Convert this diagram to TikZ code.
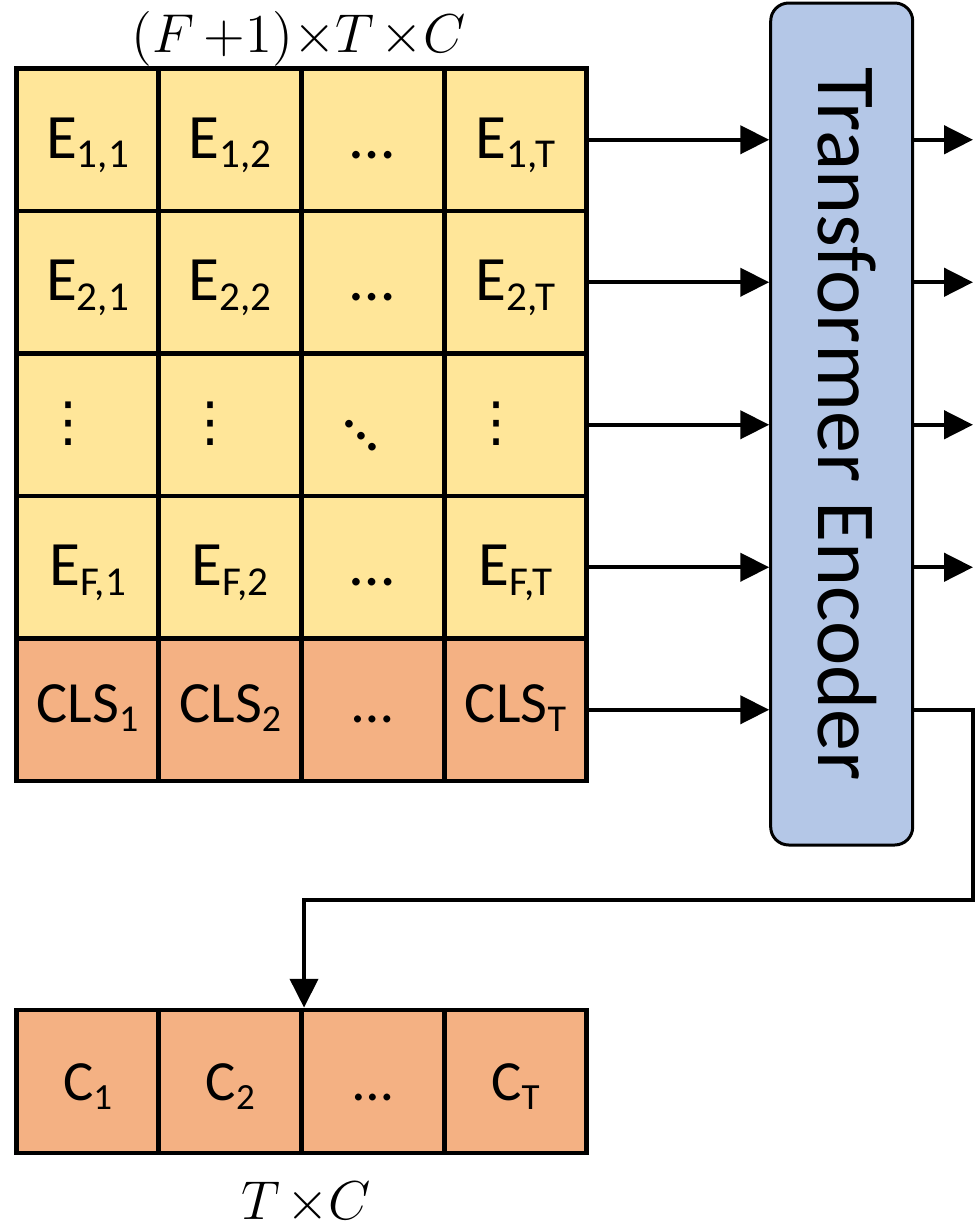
\documentclass[tikz,border=0pt]{standalone}
\usepackage{fontspec}
\setmainfont{Carlito}
\newfontfamily\djv{DejaVu Sans}
\usepackage{graphicx}
\usetikzlibrary{arrows.meta}
\definecolor{cellyellow}{HTML}{FFE699}
\definecolor{cellorange}{HTML}{F4B183}
\definecolor{encblue}{HTML}{B4C7E7}
\newcommand\sbs[1]{\raisebox{-0.15em}{\scalebox{0.65}{#1}}}
\newcommand\myvdots{{\djv\fontsize{13.5}{15}\selectfont ⋮}}
\newcommand\myddots{\hbox{\raisebox{5.6pt}{.}\kern-1.18pt\raisebox{2.8pt}{.}\kern-1.18pt.}}
\tikzset{
  cellbase/.style={draw, line width=1.2pt, minimum width=35.69pt, minimum height=35.625pt, inner sep=0pt, anchor=center},
  erow/.style={cellbase, fill=cellyellow, font=\fontsize{15.8}{18}\selectfont, text height=11.28pt, text depth=2pt},
  clsrow/.style={cellbase, fill=cellorange, font=\fontsize{14.6}{17}\selectfont, text height=8.375pt, text depth=2pt},
  crow/.style={cellbase, fill=cellorange, minimum height=35.75pt, font=\fontsize{14.2}{16}\selectfont, text height=11.5pt, text depth=2pt},
  dotlbl/.style={inner sep=0pt, font=\fontsize{15.8}{18}\selectfont},
  encbox/.style={draw, line width=0.75pt, fill=encblue, rounded corners=4.5pt, minimum width=35.5pt, minimum height=210.5pt, inner sep=0pt, font=\fontsize{21}{24}\selectfont},
  arr/.style={-{Triangle[length=7.2pt,width=7pt]}, line width=1pt},
  mlabel/.style={inner sep=0pt, font=\fontsize{12}{14}\selectfont},
}
\begin{document}
\begin{tikzpicture}[x=0.25pt, y=-0.25pt]
\useasboundingbox (0,0) rectangle (976,1232);
% row 1
\node[erow] (e11) at (87.5,139.75) {E\sbs{1,1}};
\node[erow] (e12) at (230.25,139.75) {E\sbs{1,2}};
\node[erow] (e13) at (372.75,139.75) {…};
\node[erow] (e14) at (515.5,139.75) {E\sbs{1,T}};
% row 2
\node[erow] (e21) at (87.5,282.25) {E\sbs{2,1}};
\node[erow] (e22) at (230.25,282.25) {E\sbs{2,2}};
\node[erow] (e23) at (372.75,282.25) {…};
\node[erow] (e24) at (515.5,282.25) {E\sbs{2,T}};
% dots row
\node[erow] (d1) at (87.5,424.75) {};
\node[erow] (d2) at (230.25,424.75) {};
\node[erow] (d3) at (372.75,424.75) {};
\node[erow] (d4) at (515.5,424.75) {};
\node[dotlbl] (v1) at (68.9,423.3) {\myvdots};
\node[dotlbl] (v2) at (210.5,423.3) {\myvdots};
\node[dotlbl] (v3) at (361,435.7) {\myddots};
\node[dotlbl] (v4) at (496.4,423.3) {\myvdots};
% row F
\node[erow] (f1) at (87.5,567.25) {E\sbs{F,1}};
\node[erow] (f2) at (230.25,567.25) {E\sbs{F,2}};
\node[erow] (f3) at (372.75,567.25) {…};
\node[erow] (f4) at (515.5,567.25) {E\sbs{F,T}};
% CLS row
\node[clsrow] (s1) at (87.5,709.75) {CLS\sbs{1}};
\node[clsrow] (s2) at (230.25,709.75) {CLS\sbs{2}};
\node[clsrow] (s3) at (372.75,709.75) {…};
\node[clsrow] (s4) at (515.5,709.75) {CLS\sbs{T}};
% bottom row
\node[crow] (b1) at (87.5,1081.5) {C\sbs{1}};
\node[crow] (b2) at (230.25,1081.5) {C\sbs{2}};
\node[crow] (b3) at (372.75,1081.5) {…};
\node[crow] (b4) at (515.5,1081.5) {C\sbs{T}};
% labels
\node[mlabel, anchor=base] (toplbl) at (298.5,52) {\scalebox{1.14}{$(F\mkern3mu{+}1){\times}T\mkern2mu{\times}C$}};
\node[mlabel, anchor=base] (botlbl) at (306,1219) {\scalebox{1.14}{$T\mkern2mu{\times}C$}};
% encoder
\node[encbox] (tb) at (841.7,424) {\hspace*{2.6pt}\rotatebox{-90}{Transformer Encoder}};
% free ends
\coordinate (o1) at (973,139.75);
\coordinate (o2) at (973,282.25);
\coordinate (o3) at (973,424.75);
\coordinate (o4) at (973,567.25);
\coordinate (k1) at (973,900);
% input arrows
\draw[arr] (e14.east) -- (e14.east -| tb.west);
\draw[arr] (e24.east) -- (e24.east -| tb.west);
\draw[arr] (d4.east) -- (d4.east -| tb.west);
\draw[arr] (f4.east) -- (f4.east -| tb.west);
\draw[arr] (s4.east) -- (s4.east -| tb.west);
% output arrows
\draw[arr] (tb.east |- e14) -- (o1);
\draw[arr] (tb.east |- e24) -- (o2);
\draw[arr] (tb.east |- d4) -- (o3);
\draw[arr] (tb.east |- f4) -- (o4);
\draw[arr] (tb.east |- s4) -| (k1) -| (b2.north east);
\end{tikzpicture}
\end{document}
